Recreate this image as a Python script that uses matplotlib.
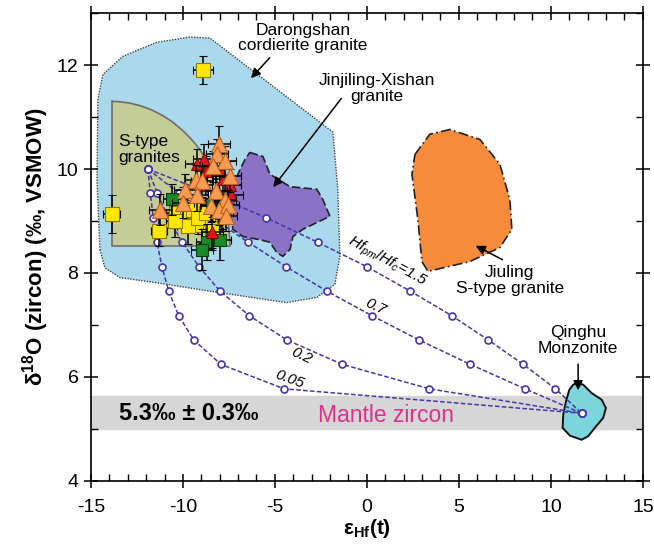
import matplotlib
matplotlib.use("Agg")
import matplotlib.pyplot as plt
from matplotlib.patches import Polygon, Ellipse, Rectangle
from matplotlib.ticker import MultipleLocator

plt.rcParams['font.family'] = ['Liberation Sans', 'DejaVu Sans']
plt.rcParams['mathtext.fontset'] = 'custom'
plt.rcParams['mathtext.rm'] = 'Liberation Sans'
plt.rcParams['mathtext.it'] = 'Liberation Sans:italic'
plt.rcParams['mathtext.bf'] = 'Liberation Sans:bold'
plt.rcParams['axes.unicode_minus'] = False

# --- campos (poligonos): eHf(t), d18O ---
darong_x = [-14.51, -14.24, -13.42, -11.41, -7.99, -4.35, -2.72, -1.74, -1.47, -1.58, -1.85,
            -8.53, -9.62, -11.41, -13.26, -14.35, -14.62, -14.67]
darong_y = [8.45, 8.10, 7.91, 7.81, 7.62, 7.43, 7.53, 7.78, 8.32, 9.61, 10.71,
            12.52, 12.54, 12.44, 12.17, 11.82, 11.34, 9.80]

jx_x = [-6.36, -5.65, -5.27, -4.18, -2.72, -2.39, -2.01, -2.72, -3.48, -4.02, -4.18,
        -4.57, -4.89, -5.27, -5.82, -6.74, -7.28, -7.45, -7.34, -6.90, -6.63]
jx_y = [10.32, 10.24, 9.90, 9.66, 9.61, 9.41, 9.09, 8.97, 8.84, 8.70, 8.45,
        8.32, 8.39, 8.59, 8.64, 8.70, 8.84, 9.22, 9.61, 9.99, 10.18]

jiuling_x = [2.61, 3.42, 4.51, 6.14, 7.23, 7.77, 7.88, 7.23, 5.60, 3.32, 2.99, 2.77, 2.45]
jiuling_y = [10.28, 10.67, 10.76, 10.57, 10.09, 9.41, 8.84, 8.49, 8.22, 8.03, 8.22, 9.03, 9.90]

qinghu_x = [11.40, 11.76, 12.21, 12.76, 12.99, 12.84, 12.39, 12.03, 11.67, 11.03,
            10.64, 10.67, 10.82, 11.00, 11.21]
qinghu_y = [5.88, 5.85, 5.69, 5.56, 5.40, 5.21, 5.02, 4.86, 4.79, 4.87,
            5.02, 5.27, 5.53, 5.75, 5.85]

# campo S-type: esquina inferior izquierda, techo y alcance a la derecha
stype_x0, stype_y0 = -13.86, 8.51
stype_top = 11.30
stype_right = -7.45

# --- curvas de mezcla (circulos leidos) ---
mix_d18o = [10.0, 9.53, 9.06, 8.59, 8.12, 7.65, 7.18, 6.71, 6.24, 5.77, 5.3]
mix_15 = [-11.9, -8.53, -5.46, -2.67, 0.0, 2.36, 4.60, 6.60, 8.50, 10.25, 11.67]
mix_07 = [-11.9, -10.20, -8.39, -6.45, -4.39, -2.18, 0.26, 2.84, 5.62, 8.60, 11.67]
mix_02 = [-11.9, -11.39, -10.78, -10.04, -9.12, -7.98, -6.40, -4.35, -1.33, 3.40, 11.67]
mix_005 = [-11.9, -11.77, -11.61, -11.41, -11.14, -10.77, -10.23, -9.41, -7.93, -4.50, 11.67]

# --- muestras ---
yel_x = [-13.88, -8.90, -11.30, -10.40, -9.80, -9.70, -9.44, -8.95, -8.53, -8.40, -10.43, -9.20, -8.75]
yel_y = [9.13, 11.90, 8.81, 9.16, 9.19, 8.90, 9.22, 8.93, 8.98, 8.80, 9.00, 9.05, 9.15]
yel_ex = [0.45, 0.55, 0.45, 0.5, 0.6, 0.6, 0.5, 0.7, 0.6, 0.6, 0.5, 0.6, 0.7]
yel_ey = [0.37, 0.27, 0.30, 0.3, 0.3, 0.35, 0.3, 0.35, 0.3, 0.35, 0.3, 0.3, 0.3]

grn_x = [-10.60, -8.70, -8.00, -8.95, -8.40]
grn_y = [9.42, 8.60, 8.64, 8.45, 9.30]
grn_ex = [0.5, 0.6, 0.6, 0.6, 0.6]
grn_ey = [0.3, 0.35, 0.4, 0.4, 0.3]

red_x = [-8.85, -9.26, -8.72, -7.81, -7.45, -7.36, -8.44, -8.00, -9.00, -7.90]
red_y = [10.19, 10.09, 9.96, 9.80, 9.70, 9.50, 8.78, 10.00, 9.70, 9.15]
red_ex = [0.6] * 10
red_ey = [0.3] * 10

org_x = [-8.05, -8.17, -7.72, -8.35, -7.45, -9.30, -8.95, -9.89, -8.21, -9.26, -7.72,
         -9.98, -8.46, -8.03, -7.54, -7.68, -11.25]
org_y = [10.48, 10.28, 10.15, 10.05, 9.86, 9.78, 9.76, 9.60, 9.57, 9.50, 9.41,
         9.35, 9.29, 9.22, 9.30, 9.10, 9.22]
org_ex = [0.6] * 17
org_ey = [0.35] + [0.3] * 16

fig = plt.figure(figsize=(6.54, 5.47), dpi=100)
ax = fig.add_axes([0.139, 0.121, 0.844, 0.855])

# banda del manto
ax.axhspan(5.0, 5.63, color='#d6d6d6', zorder=0)

ax.add_patch(Polygon(list(zip(darong_x, darong_y)), closed=True, fc='#aad8ec',
                     ec='#444444', lw=1.0, ls=(0, (1, 1)), zorder=1))

# S-type: cuarto de elipse recortado al primer cuadrante
clip = Rectangle((stype_x0, stype_y0), 20, 10, transform=ax.transData)
rx = stype_right - stype_x0
ry = stype_top - stype_y0
st_fill = Ellipse((stype_x0, stype_y0), 2 * rx, 2 * ry, fc='#c3cd95', ec='none', zorder=2)
ax.add_patch(st_fill)
st_fill.set_clip_path(clip)
st_edge = Ellipse((stype_x0, stype_y0), 2 * rx, 2 * ry, fc='none', ec='#6e6e6e', lw=1.2,
                  zorder=2.1)
ax.add_patch(st_edge)
st_edge.set_clip_path(clip)
ax.plot([stype_right, stype_x0, stype_x0], [stype_y0, stype_y0, stype_top],
        color='#6e6e6e', lw=1.2, zorder=2.1)

ax.add_patch(Polygon(list(zip(jx_x, jx_y)), closed=True, fc='#8b72c6',
                     ec='#222222', lw=1.2, ls=(0, (5, 2)), zorder=3))
ax.add_patch(Polygon(list(zip(jiuling_x, jiuling_y)), closed=True, fc='#f68b3c',
                     ec='#222222', lw=1.2, ls=(0, (6, 2, 1, 2)), zorder=3))
ax.add_patch(Polygon(list(zip(qinghu_x, qinghu_y)), closed=True, fc='#7dd5dc',
                     ec='#111111', lw=1.4, zorder=3))

# curvas de mezcla
for curva in [mix_15, mix_07, mix_02, mix_005]:
    ax.plot(curva, mix_d18o, color='#4636a8', lw=1.1, ls=(0, (3, 1.5)), zorder=4)
    ax.plot(curva, mix_d18o, ls='none', marker='o', ms=5, mfc='white',
            mec='#4636a8', mew=1.2, zorder=4.5)

# muestras con barras de error
def grupo(x, y, ex, ey, mk, ms, fc, ec, z):
    for i in range(len(x)):
        ax.errorbar(x[i], y[i], xerr=ex[i], yerr=ey[i], fmt=mk, ms=ms, mfc=fc, mec=ec,
                    mew=0.8, ecolor='black', elinewidth=1.1, capsize=3, capthick=1.1,
                    zorder=z + i * 0.01)

grupo(yel_x, yel_y, yel_ex, yel_ey, 's', 10, '#ffe800', '#8a7a00', 5)
grupo(grn_x, grn_y, grn_ex, grn_ey, 's', 8, '#178a2a', '#0b3d10', 6)
grupo(red_x, red_y, red_ex, red_ey, '^', 8, '#e8141c', '#7a0a0a', 7)
grupo(org_x, org_y, org_ex, org_ey, '^', 12, '#f89c50', '#b86020', 8)

# textos
ax.text(-13.5, 5.3, '5.3‰ ± 0.3‰', fontsize=17, fontweight='bold', va='center', zorder=9)
ax.text(-2.66, 5.26, 'Mantle zircon', fontsize=16.5, color='#e0308c', va='center', zorder=9)

fs = 12.5
flecha = dict(arrowstyle='-|>', color='k', lw=1.1, mutation_scale=14)
ax.text(-3.48, 12.52, 'Darongshan\ncordierite granite', fontsize=fs, ha='center',
        va='center', linespacing=1.05, zorder=9)
ax.annotate('', xy=(-6.40, 11.71), xytext=(-5.18, 12.18), arrowprops=flecha, zorder=9)
ax.text(0.54, 11.55, 'Jinjiling-Xishan\ngranite', fontsize=fs, ha='center', va='center',
        linespacing=1.05, zorder=9)
ax.annotate('', xy=(-5.18, 9.61), xytext=(-1.30, 11.40), arrowprops=flecha, zorder=9)
ax.text(-13.52, 10.38, 'S-type\ngranites', fontsize=fs, ha='left', va='center',
        linespacing=1.05, zorder=9)
ax.text(7.77, 7.86, 'Jiuling\nS-type granite', fontsize=fs, ha='center', va='center',
        linespacing=1.05, zorder=9)
ax.annotate('', xy=(5.78, 8.55), xytext=(7.5, 8.23), arrowprops=flecha, zorder=9)
ax.text(11.47, 6.70, 'Qinghu\nMonzonite', fontsize=fs, ha='center', va='center',
        linespacing=1.05, zorder=9)
ax.annotate('', xy=(11.48, 5.69), xytext=(11.48, 6.30), arrowprops=flecha, zorder=9)

ax.text(1.1, 8.22, r'$Hf_{pm}/Hf_{c}$=1.5', fontsize=11, style='italic', rotation=-29,
        ha='center', va='center', rotation_mode='anchor', zorder=9)
ax.text(0.45, 7.35, '0.7', fontsize=11, style='italic', rotation=-25, ha='center',
        va='center', rotation_mode='anchor', zorder=9)
ax.text(-3.55, 6.40, '0.2', fontsize=11, style='italic', rotation=-25, ha='center',
        va='center', rotation_mode='anchor', zorder=9)
ax.text(-4.18, 5.95, '0.05', fontsize=11, style='italic', rotation=-20, ha='center',
        va='center', rotation_mode='anchor', zorder=9)

# ejes
ax.set_xlim(-15, 15)
ax.set_ylim(4, 13)
ax.xaxis.set_major_locator(MultipleLocator(5))
ax.xaxis.set_minor_locator(MultipleLocator(1))
ax.yaxis.set_major_locator(MultipleLocator(2))
ax.yaxis.set_minor_locator(MultipleLocator(1))
ax.tick_params(which='major', direction='inout', length=10, width=1.1, labelsize=14,
               top=True, right=True, pad=4)
ax.tick_params(which='minor', direction='in', length=5, width=1.0, top=True, right=True)
ax.tick_params(axis='x', which='major', pad=8)
for s in ax.spines.values():
    s.set_linewidth(1.2)

ax.set_xlabel(r'ε$_{\mathbf{Hf}}$(t)', fontsize=15, fontweight='bold', labelpad=1)
ax.set_ylabel(r'δ$^{\mathbf{18}}$O (zircon) (‰, VSMOW)', fontsize=16, fontweight='bold',
              labelpad=4)

fig.savefig('out.png', dpi=100)
